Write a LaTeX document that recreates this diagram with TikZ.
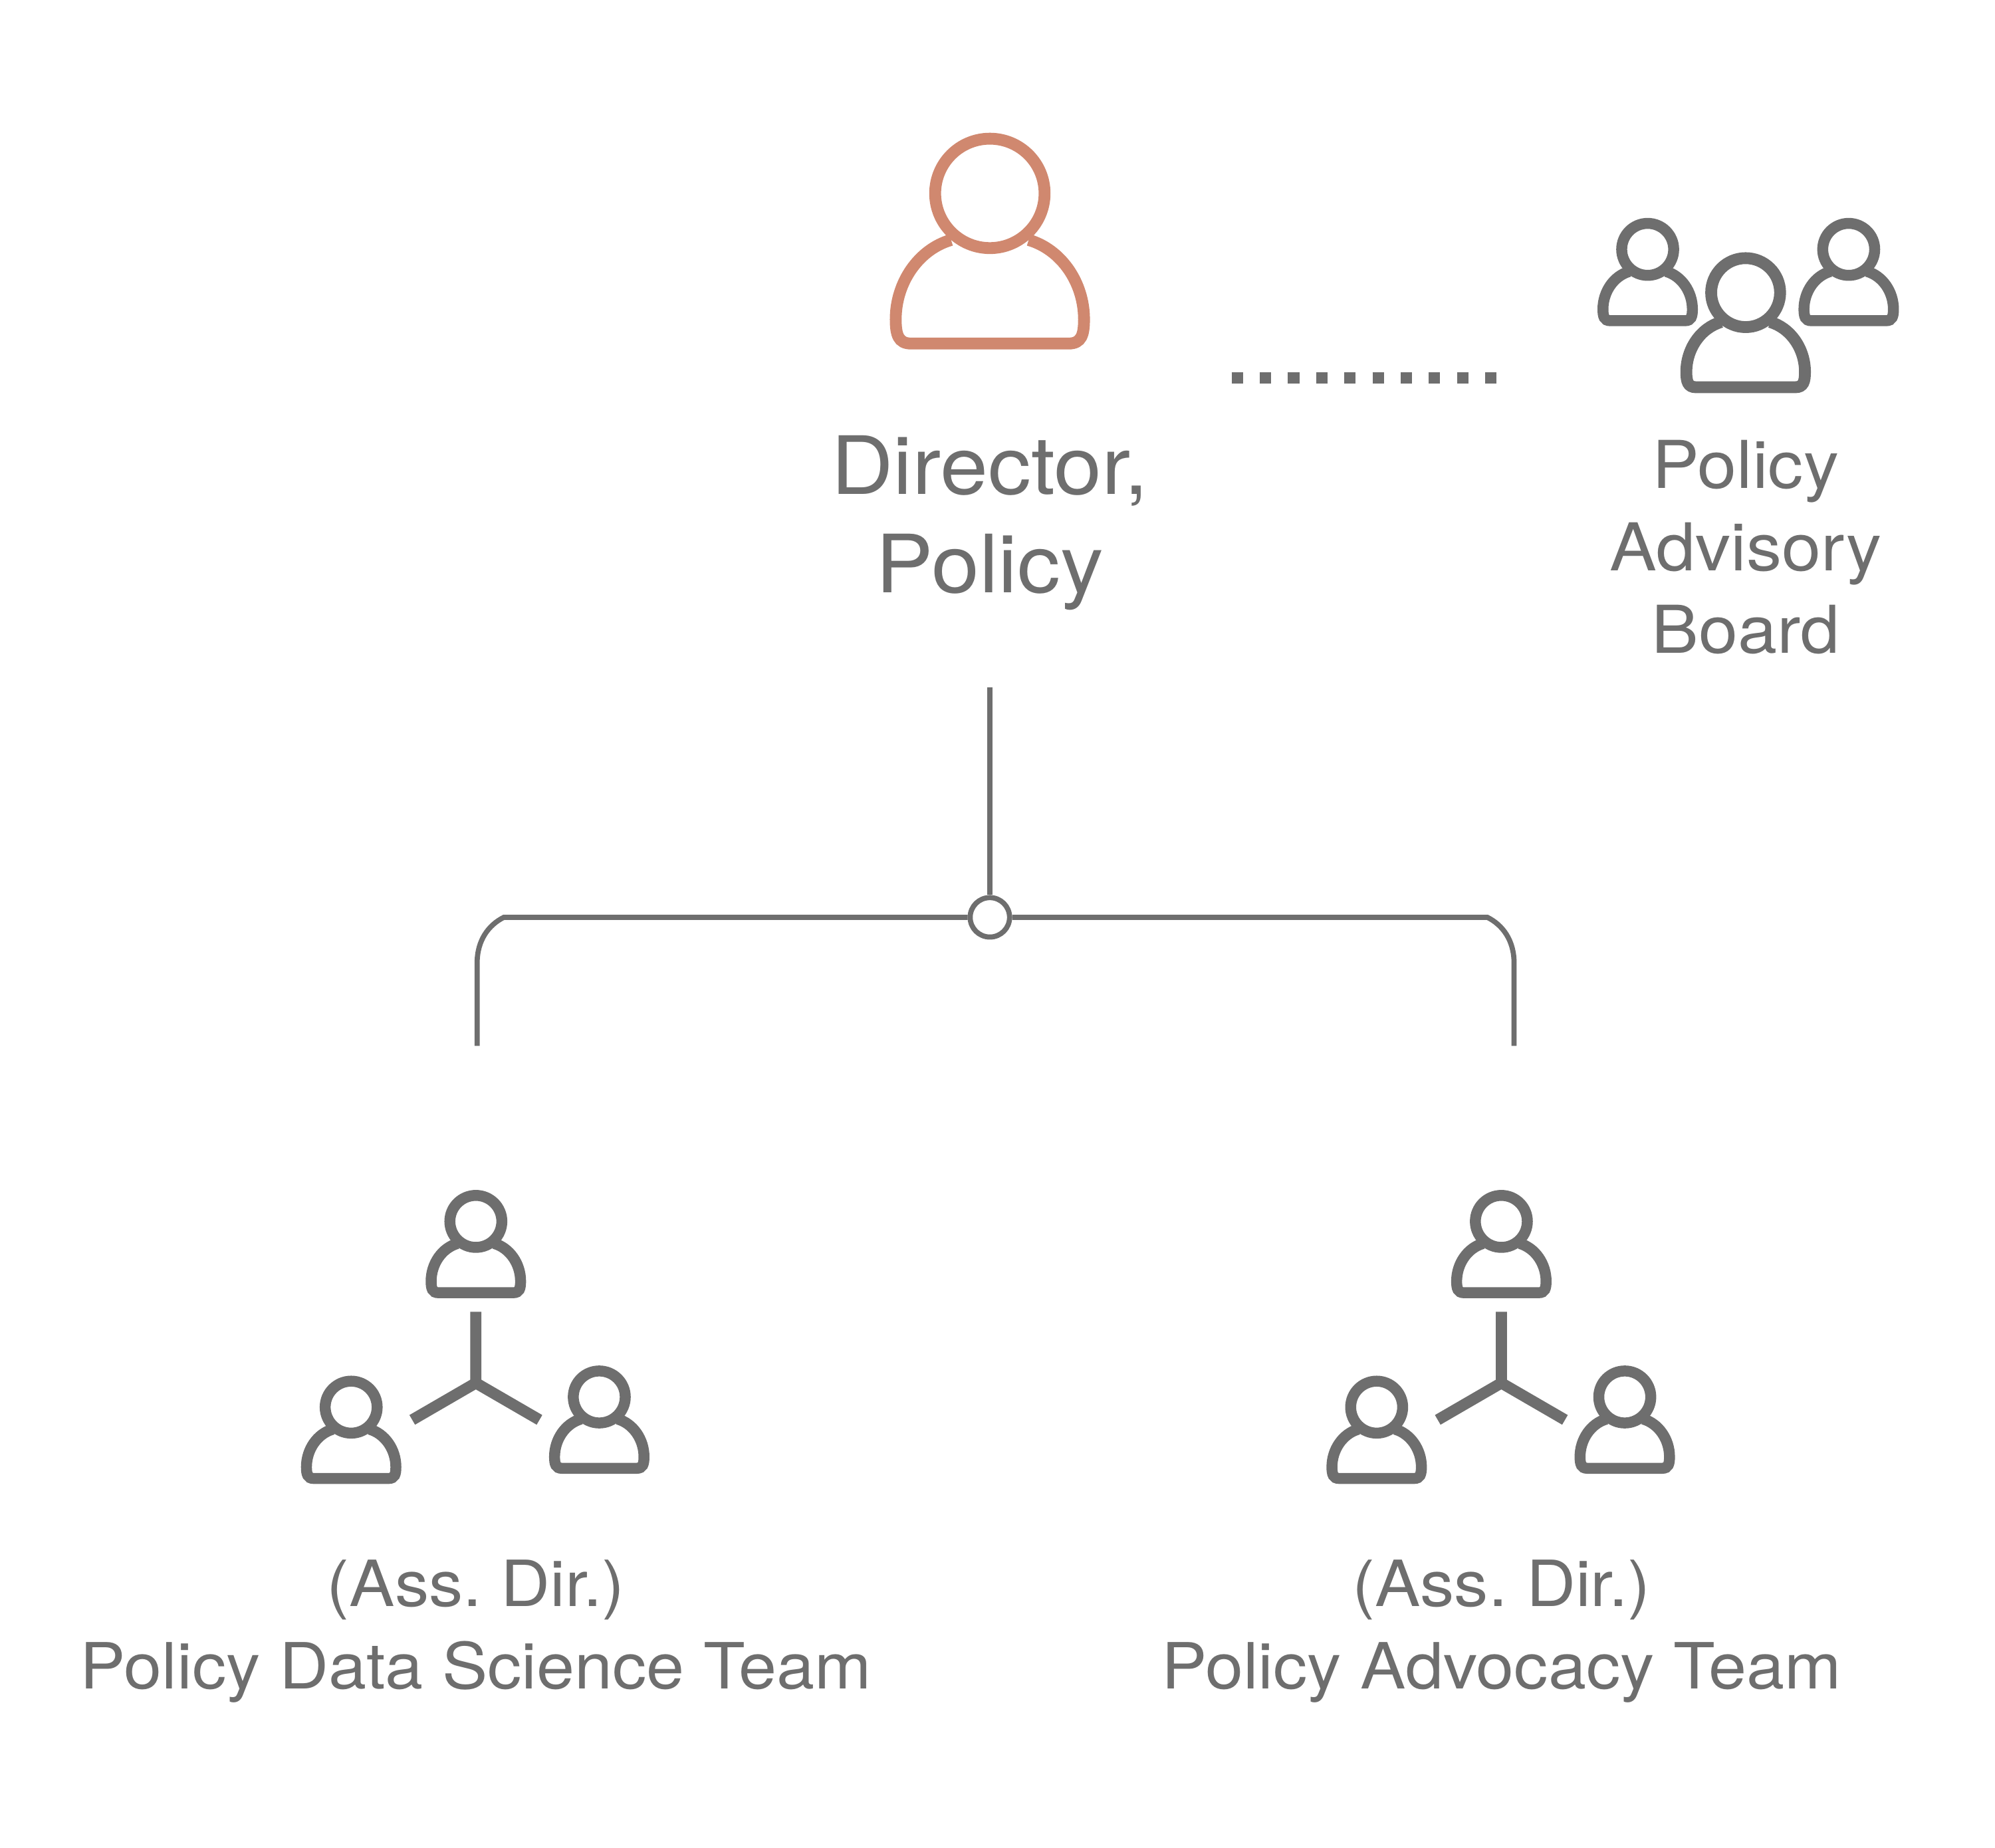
\documentclass[tikz,border=0pt]{standalone}
\usepackage{fontspec}
\setmainfont{TeX Gyre Heros}
\newfontfamily\widefont[FakeStretch=1.07]{TeX Gyre Heros}
\frenchspacing
\definecolor{greyline}{HTML}{6E6E6E}
\definecolor{terracotta}{HTML}{D0886F}
\tikzset{
  person/.pic={
    \draw (0,0) circle (43);
    \draw (-30.5,36.6) .. controls (-56,44) and (-74,70) .. (-74,99) .. controls (-74,111) and (-72,118) .. (-62,118) -- (62,118) .. controls (72,118) and (74,111) .. (74,99) .. controls (74,70) and (56,44) .. (30.5,36.6);
  },
  iconline/.style={draw=greyline,line width=5pt},
  wire/.style={draw=greyline,line width=2.3pt},
  biglabel/.style={text=greyline,align=center,font=\widefont\fontsize{36}{44}\selectfont},
  boardlabel/.style={text=greyline,align=center,font=\widefont\fontsize{29.5}{36.9}\selectfont},
  midlabel/.style={text=greyline,align=center,font=\widefont\fontsize{28.5}{36.9}\selectfont}
}
\begin{document}
\begin{tikzpicture}[x=0.02cm,y=-0.02cm]
\useasboundingbox (0,0) rectangle (1568,1452.5);
%director
\pic[draw=terracotta,line width=5.3pt] at (778,152) {person};
\node[biglabel] (director) at (778,411) {Director,\\Policy};
%advisory board
\pic[draw=greyline,line width=4.9pt,scale=0.475] at (1295,196) {person};
\pic[draw=greyline,line width=4.9pt,scale=0.475] at (1453,196) {person};
\pic[draw=greyline,line width=5.3pt,scale=0.63] at (1372,230) {person};
\node[boardlabel] (board) at (1372,430) {Policy\\Advisory\\Board};
\coordinate (dotsL) at (968,297);
\coordinate (dotsR) at (1177,297);
\draw[draw=greyline,line width=5.1pt,dash pattern=on 5.1pt off 7.5pt] (dotsL)--(dotsR);
%tree
\coordinate (stem) at (778,540);
\coordinate (cornerL) at (396,721);
\coordinate (cornerR) at (1169,721);
\coordinate (dropL) at (375,822);
\coordinate (dropR) at (1190,822);
\node[circle,wire,fill=white,minimum size=31*0.02cm,inner sep=0pt] (hub) at (778,721) {};
\draw[wire] (stem)--(hub);
\draw[wire] (hub)--(cornerL) .. controls (384,727) and (375,739) .. (375,757) -- (dropL);
\draw[wire] (hub)--(cornerR) .. controls (1181,727) and (1190,739) .. (1190,757) -- (dropR);
%teams
\foreach \x/\t in {374/Policy Data Science Team,1180/Policy Advocacy Team}{
  \pic[draw=greyline,line width=4.9pt,scale=0.475] at (\x,960) {person};
  \pic[draw=greyline,line width=4.9pt,scale=0.475] at ({\x-98},1106) {person};
  \pic[draw=greyline,line width=4.9pt,scale=0.475] at ({\x+97},1098) {person};
  \draw[iconline] (\x,1031)--(\x,1087)--++(-50,29);
  \draw[iconline] (\x,1087)--++(50,29);
  \node[midlabel] (team\x) at (\x,1282) {(Ass. Dir.)\\\t};
}
\end{tikzpicture}
\end{document}
